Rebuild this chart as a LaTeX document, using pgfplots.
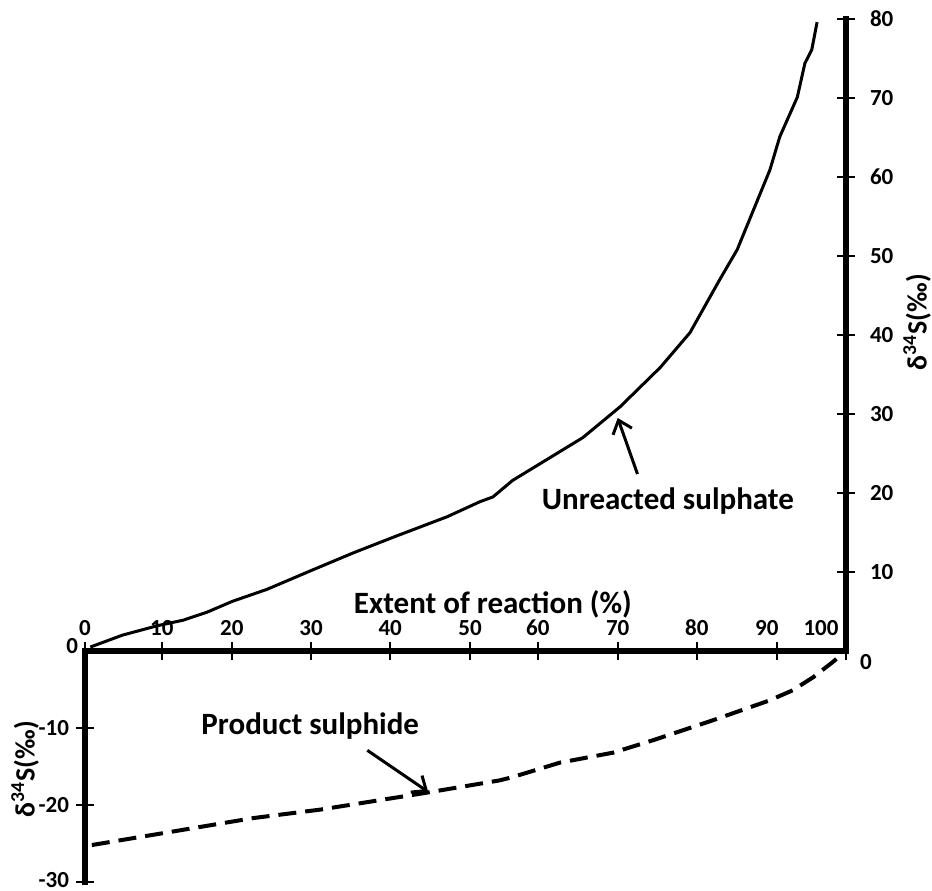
\documentclass[border=0pt]{standalone}
\usepackage{pgfplots}
\pgfplotsset{compat=1.18}
\usepackage{fontspec}
\setmainfont{Carlito}
\usetikzlibrary{arrows.meta}

% 1 px of the reference = 0.5pt
\pgfplotsset{
  halfaxis/.style={
    scale only axis,
    width=380.5pt,
    xmin=0, xmax=100,
    tick align=center,
    major tick length=9pt,
    every tick/.style={black, line width=1pt},
    axis line style={line width=2.6pt, line cap=rect},
    ticklabel style={font=\bfseries\fontsize{11.5}{13}\selectfont},
    label style={font=\bfseries\fontsize{15.5}{18}\selectfont},
    ylabel style={font=\bfseries\fontsize{14}{16}\selectfont, inner sep=0pt},
    /pgf/number format/assume math mode=true,
    clip=false,
  },
}
\tikzset{
  note/.style={font=\bfseries\fontsize{15.5}{18}\selectfont},
  pointer/.style={line width=1.5pt, -{Straight Barb[length=6pt,width=10pt,line width=1.5pt]}},
}

\begin{document}
\begin{tikzpicture}
\useasboundingbox (-42.5pt,-119.5pt) rectangle (423.5pt,325.5pt);

% upper part: unreacted sulphate, y axis on the right
\begin{axis}[halfaxis,
  at={(0pt,0pt)}, anchor=south west,
  height=316pt, ymin=0, ymax=80,
  axis x line*=bottom, axis y line*=right,
  y axis line style={line width=3.3pt},
  xtick={0,10.1,19.3,29.7,40.1,50.6,59.5,70,80.4,90.9,100},
  xticklabels={0,10,20,30,40,50,60,70,80,{90\kern10pt},{100\kern25pt}},
  xticklabel style={anchor=south, yshift=8.5pt},
  ytick={10,20,30,40,50,60,70,80},
  yticklabels={10,20,30,40,50,60,70,80},
  yticklabel style={xshift=4pt},
  extra y ticks={0},
  extra y tick labels={0},
  extra y tick style={major tick length=0pt, tick label style={xshift=-0.5pt, yshift=-5.5pt}},
  xlabel={Extent of reaction (\%)},
  xlabel style={at={(axis description cs:0.536,0.074)}, anchor=center},
  ylabel={δ\textsuperscript{34}S(‰)},
  ylabel style={at={(axis description cs:1.0935,0.52)}, anchor=center},
]
\addplot[black, line width=1.5pt] coordinates {
  (0.7,0.5) (4.9,2.0) (9.5,3.2) (12.9,3.9) (16.0,4.9) (19.4,6.3)
  (23.9,7.8) (30.0,10.3) (35.2,12.4) (40.5,14.4) (47.6,17.0) (51.9,18.9)
  (53.6,19.5) (56.2,21.6) (65.4,27.0) (70.3,30.9) (75.6,35.9) (79.5,40.3)
  (83.4,47.0) (85.7,50.8) (90.0,60.9) (91.3,65.1) (93.6,70.1) (94.6,74.4)
  (95.5,76.1) (96.2,79.6)
};
\node[note] at (axis cs:76.6,19.0) {Unreacted sulphate};
\draw[pointer] (axis cs:72.6,22.4) -- (axis cs:70.0,29.5);
\end{axis}

% lower part: product sulphide, y axis on the left
\begin{axis}[halfaxis,
  at={(0pt,0pt)}, anchor=north west,
  height=115.5pt, ymin=-30, ymax=0,
  axis x line=none, axis y line*=left,
  ytick={-30,-20,-10},
  yticklabels={\raisebox{2.5pt}{-30},-20,-10},
  extra y ticks={0},
  extra y tick labels={0},
  extra y tick style={major tick length=0pt, tick label style={yshift=2.5pt}},
  ylabel={δ\textsuperscript{34}S(‰)},
  ylabel style={at={(axis description cs:-0.0788,0.489)}, anchor=center},
]
\addplot[black, line width=2pt, dash pattern=on 9pt off 4.5pt] coordinates {
  (0.9,-25.2) (22.1,-21.7) (30.9,-20.6) (44.9,-18.4) (54.5,-16.8)
  (56.1,-16.4) (62.4,-14.5) (69.4,-13.2) (74.6,-11.6) (82.5,-9.0)
  (90.0,-6.4) (93.0,-5.1) (95.7,-3.4) (98.3,-1.4) (99.6,-0.3)
};
\node[note] at (axis cs:29.6,-9.7) {Product sulphide};
\draw[pointer] (axis cs:37.1,-12.9) -- (axis cs:45.1,-18.3);
\end{axis}
\end{tikzpicture}
\end{document}
